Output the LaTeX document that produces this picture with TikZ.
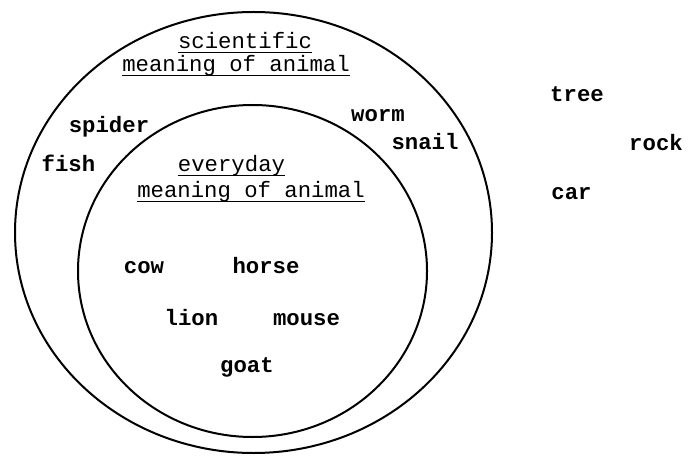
\documentclass[tikz,border=0pt]{standalone}
\usepackage{fontspec}
\setmainfont{Liberation Mono}
\begin{document}
\begin{tikzpicture}[x=1pt,y=-1pt,
  word/.style={anchor=base,inner sep=0pt,font=\fontsize{22.3}{26}\selectfont\bfseries},
  label/.style={anchor=base,inner sep=0pt,font=\fontsize{22.3}{26}\selectfont},
  ring/.style={line width=2pt},
  uline/.style={line width=1.4pt}]
\useasboundingbox (0,0) rectangle (698,462);
% sets
\draw[ring] (253.5,232.5) ellipse [x radius=238.5pt, y radius=220.5pt];
\draw[ring] (252.5,271) ellipse [x radius=174.5pt, y radius=166pt];
% set labels
\node[label] (sci) at (245,49) {scientific};
\node[label] (scim) at (236,72) {meaning of animal};
\node[label] (evd) at (231.5,172) {everyday};
\node[label] (evdm) at (251,198) {meaning of animal};
\foreach \n in {sci,scim,evd,evdm}
  \draw[uline] ([yshift=-3.5pt]\n.base west) -- ([yshift=-3.5pt]\n.base east);
% members
\node[word] (spider) at (109,133) {spider};
\node[word] (fish) at (68.5,172) {fish};
\node[word] (worm) at (378,122) {worm};
\node[word] (snail) at (425,150) {snail};
\node[word] (cow) at (144,273) {cow};
\node[word] (horse) at (266,273) {horse};
\node[word] (lion) at (191.5,325) {lion};
\node[word] (mouse) at (306.5,325) {mouse};
\node[word] (goat) at (247,372) {goat};
% outside
\node[word] (tree) at (577,102) {tree};
\node[word] (rock) at (656,151) {rock};
\node[word] (car) at (571.5,200) {car};
\end{tikzpicture}
\end{document}
